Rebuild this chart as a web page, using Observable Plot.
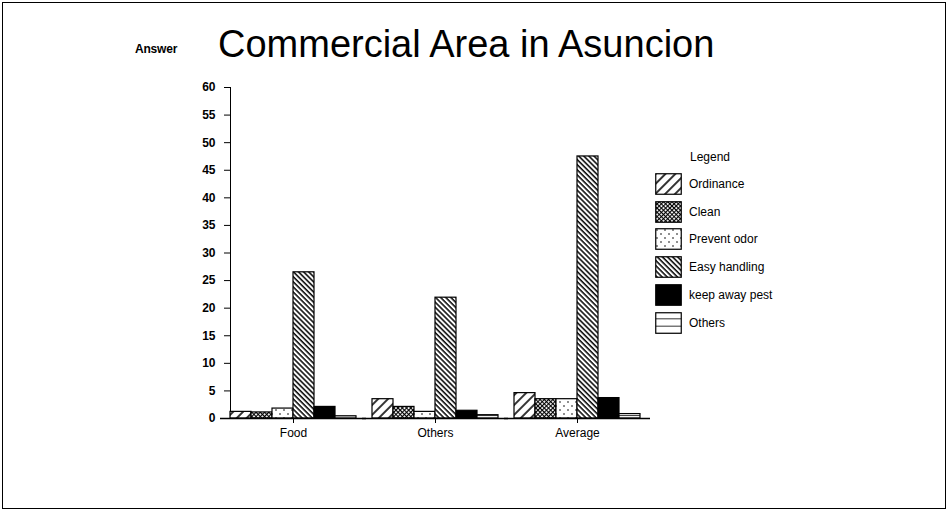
<!DOCTYPE html>
<html>
<head>
<meta charset="utf-8">
<script src="https://cdn.jsdelivr.net/npm/d3@7"></script>
<script src="https://cdn.jsdelivr.net/npm/@observablehq/plot@0.6"></script>
<style>
  html, body { margin: 0; padding: 0; background: #fff; }
  #wrap { position: relative; width: 951px; height: 515px; overflow: hidden; font-family: "Liberation Sans", Arial, sans-serif; }
  #frame { position: absolute; left: 2px; top: 2px; width: 942px; height: 505px; border: 1.5px solid #000; pointer-events: none; }
  #title { position: absolute; left: 218px; top: 23px; white-space: nowrap; font-size: 38px; color: #000; }
  #answer { position: absolute; left: 135px; top: 42px; font-size: 12px; font-weight: bold; letter-spacing: -0.2px; }
  #legend { position: absolute; left: 655px; top: 150px; font-size: 12px; }
  #legend .lt { position: absolute; left: 35px; top: 0; white-space: nowrap; }
  #legend .row { position: absolute; left: 0; height: 22px; display: flex; align-items: center; white-space: nowrap; }
  #legend .row svg { margin-right: 7px; }
  #chart { position: absolute; left: 0; top: 0; }
  #chart [aria-label^="y-axis"] text { font-weight: bold; }
</style>
</head>
<body>
<svg width="0" height="0" style="position:absolute">
  <defs>
    <pattern id="p-ord" width="7" height="7" patternUnits="userSpaceOnUse" patternTransform="rotate(45)">
      <rect width="7" height="7" fill="#fff"/>
      <line x1="1" y1="0" x2="1" y2="7" stroke="#000" stroke-width="1.6"/>
    </pattern>
    <pattern id="p-clean" width="3" height="3" patternUnits="userSpaceOnUse" patternTransform="rotate(45)">
      <rect width="3" height="3" fill="#fff"/>
      <line x1="0.5" y1="0" x2="0.5" y2="3" stroke="#000" stroke-width="1.2"/>
      <line x1="0" y1="0.5" x2="3" y2="0.5" stroke="#000" stroke-width="1.2"/>
    </pattern>
    <pattern id="p-odor" width="8" height="8" patternUnits="userSpaceOnUse">
      <rect width="8" height="8" fill="#fff"/>
      <circle cx="2" cy="2" r="0.8" fill="#000"/>
      <circle cx="6" cy="6" r="0.8" fill="#000"/>
    </pattern>
    <pattern id="p-easy" width="3.6" height="3.6" patternUnits="userSpaceOnUse" patternTransform="rotate(-45)">
      <rect width="3.6" height="3.6" fill="#fff"/>
      <line x1="1" y1="0" x2="1" y2="3.6" stroke="#000" stroke-width="1.5"/>
    </pattern>
    <pattern id="p-pest" width="4" height="4" patternUnits="userSpaceOnUse">
      <rect width="4" height="4" fill="#000"/>
    </pattern>
    <pattern id="p-oth" width="7" height="7.3" patternUnits="userSpaceOnUse">
      <rect width="7" height="7.3" fill="#fff"/>
      <line x1="0" y1="7" x2="7" y2="7" stroke="#000" stroke-width="1"/>
    </pattern>
  </defs>
</svg>
<div id="wrap">
  <div id="chart"></div>
  <div id="title">Commercial Area in Asuncion</div>
  <div id="answer">Answer</div>
  <div id="legend"></div>
  <div id="frame"></div>
</div>
<script>
const groups = ["Food", "Others", "Average"];
const series = ["Ordinance", "Clean", "Prevent odor", "Easy handling", "keep away pest", "Others"];
const foodValues = [1.2, 1.1, 1.8, 26.5, 2.1, 0.4];
const othersValues = [3.5, 2.1, 1.2, 21.9, 1.4, 0.6];
const averageValues = [4.6, 3.5, 3.5, 47.5, 3.7, 0.8];
const yTicks = [0, 5, 10, 15, 20, 25, 30, 35, 40, 45, 50, 55, 60];
const legendTitle = "Legend";

const fills = ["url(#p-ord)", "url(#p-clean)", "url(#p-odor)", "url(#p-easy)", "url(#p-pest)", "url(#p-oth)"];
const valuesByGroup = [foodValues, othersValues, averageValues];
const rows = groups.flatMap((g, i) => series.map((s, j) => ({group: g, series: s, value: valuesByGroup[i][j]})));

const chart = Plot.plot({
  width: 951,
  height: 515,
  marginLeft: 220,
  marginRight: 300,
  marginTop: 87,
  marginBottom: 97,
  style: {fontFamily: "'Liberation Sans', Arial, sans-serif", fontSize: "12px", background: "transparent", color: "#000"},
  facet: {data: rows, x: "group"},
  fx: {domain: groups, paddingInner: 0.11, paddingOuter: 0.07, label: null, axis: "bottom", tickSize: 5, tickPadding: 5},
  x: {domain: series, axis: null, padding: 0},
  y: {domain: [0, 60], ticks: yTicks, tickSize: 6, tickPadding: 9, line: true, label: null, grid: false},
  color: {domain: series, range: fills, type: "ordinal"},
  marks: [
    Plot.barY(rows, {x: "series", y: "value", fill: "series", stroke: "#000", strokeWidth: 1.2}),
    Plot.ruleY([0], {stroke: "#000", strokeWidth: 1.3, insetLeft: -10, insetRight: -10})
  ]
});
document.getElementById("chart").appendChild(chart);

// legend
const legend = document.getElementById("legend");
const lt = document.createElement("div");
lt.className = "lt";
lt.textContent = legendTitle;
legend.appendChild(lt);
series.forEach((s, i) => {
  const row = document.createElement("div");
  row.className = "row";
  row.style.top = (23 + i * 27.7) + "px";
  row.innerHTML = `<svg width="27" height="22"><rect x="0.75" y="0.75" width="25.5" height="20.5" fill="${fills[i]}" stroke="#000" stroke-width="1.2"/></svg><span>${s}</span>`;
  legend.appendChild(row);
});
</script>
</body>
</html>
